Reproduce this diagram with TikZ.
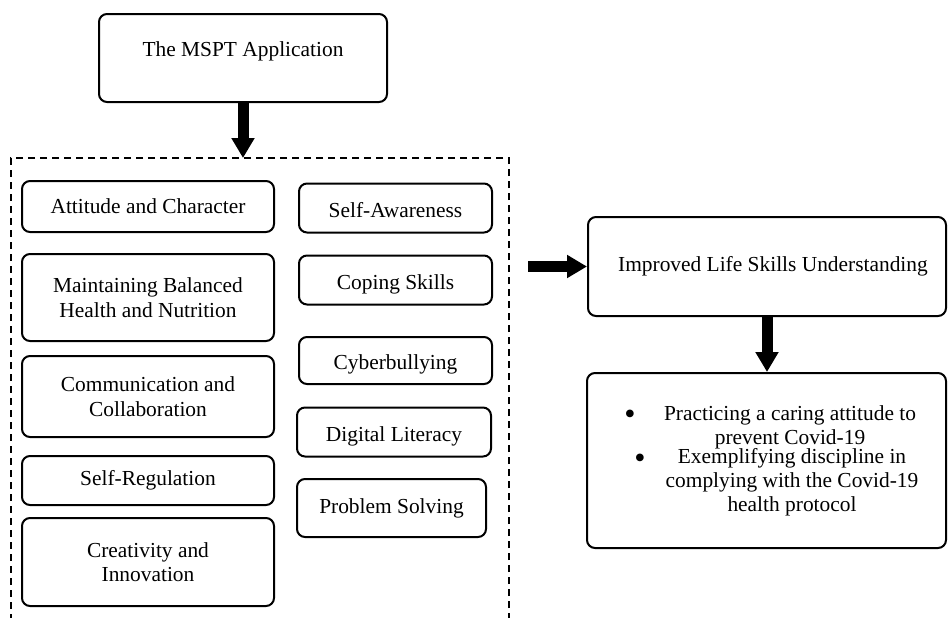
\documentclass[tikz,border=0pt]{standalone}
\usepackage{fontspec}
\setmainfont{Liberation Serif}
\usetikzlibrary{arrows.meta}
\tikzset{
  skillbox/.style={draw, line width=1pt, rounded corners=4pt, align=center, inner sep=0pt,
                   font=\fontsize{10.7}{12.2}\selectfont},
  lowtext/.style={text height=10pt, text depth=1pt},
  itemtext/.style={align=center, inner sep=0pt, font=\fontsize{10.7}{12}\selectfont},
  bulletmark/.style={inner sep=0pt, font=\fontsize{16}{16}\selectfont},
  bigarrow/.style={->, >={Triangle[width=11pt, length=10pt]}, line width=5.5pt}
}

\begin{document}
\begin{tikzpicture}[x=0.5pt, y=-0.5pt]

  \useasboundingbox (0, 0) rectangle (948, 617);
  \clip (0, 0) rectangle (948, 617);

  \node[skillbox, minimum width=144pt, minimum height=44pt, text depth=9pt] (mspt) at (243, 58) {The MSPT Application};

  % dashed frame, runs off the bottom of the page
  \node[draw, dash pattern=on 3.5pt off 2.5pt, line width=1pt, inner sep=0pt, outer sep=0pt,
        minimum width=249pt, minimum height=240pt, anchor=north west] (skills) at (11, 158) {};

  % left column
  \node[skillbox, minimum width=126pt, minimum height=25.5pt] (attitude) at (148, 206.5) {Attitude and Character};
  \node[skillbox, minimum width=126pt, minimum height=43.5pt] (balanced) at (148, 297.5) {Maintaining Balanced\\Health and Nutrition};
  \node[skillbox, minimum width=126pt, minimum height=40.5pt] (communication) at (148, 396.5) {Communication and\\Collaboration};
  \node[skillbox, minimum width=126pt, minimum height=24.5pt] (regulation) at (148, 480.5) {Self-Regulation};
  \node[skillbox, minimum width=126pt, minimum height=44pt] (creativity) at (148, 562) {Creativity and\\Innovation};

  % right column
  \node[skillbox, lowtext, minimum width=96.5pt, minimum height=24.5pt] (awareness) at (395.5, 208) {Self-Awareness};
  \node[skillbox, lowtext, minimum width=96.5pt, minimum height=24.5pt] (coping) at (395.5, 280) {Coping Skills};
  \node[skillbox, lowtext, minimum width=96.5pt, minimum height=23.5pt] (cyber) at (395.5, 360.5) {Cyberbullying};
  \node[skillbox, lowtext, minimum width=97pt, minimum height=24.5pt] (literacy) at (394, 432) {Digital Literacy};
  \node[skillbox, minimum width=94.5pt, minimum height=29pt] (problem) at (391.5, 508) {Problem Solving};

  % outcomes
  \node[skillbox, minimum width=179pt, minimum height=49.5pt] (improved) at (767, 266.5) {\hspace*{6pt}Improved Life Skills Understanding};
  \node[skillbox, minimum width=179.5pt, minimum height=87.5pt] (outcome) at (766.5, 460.5) {};

  \node[itemtext] (caring) at (790, 427) {Practicing a caring attitude to\\prevent Covid-19};
  \node[itemtext] (discipline) at (792, 482.5) {Exemplifying discipline in\\complying with the Covid-19\\health protocol};
  \node[bulletmark] (bulletone) at (630, 417) {\textbullet};
  \node[bulletmark] (bullettwo) at (640, 461) {\textbullet};

  \coordinate (skillsout) at ([xshift=9.5pt]skills.east |- improved.west);

  \draw[bigarrow] (mspt.south) -- (mspt.south |- skills.north);
  \draw[bigarrow] (skillsout) -- (improved.west);
  \draw[bigarrow] (improved.south) -- (improved.south |- outcome.north);

\end{tikzpicture}
\end{document}
